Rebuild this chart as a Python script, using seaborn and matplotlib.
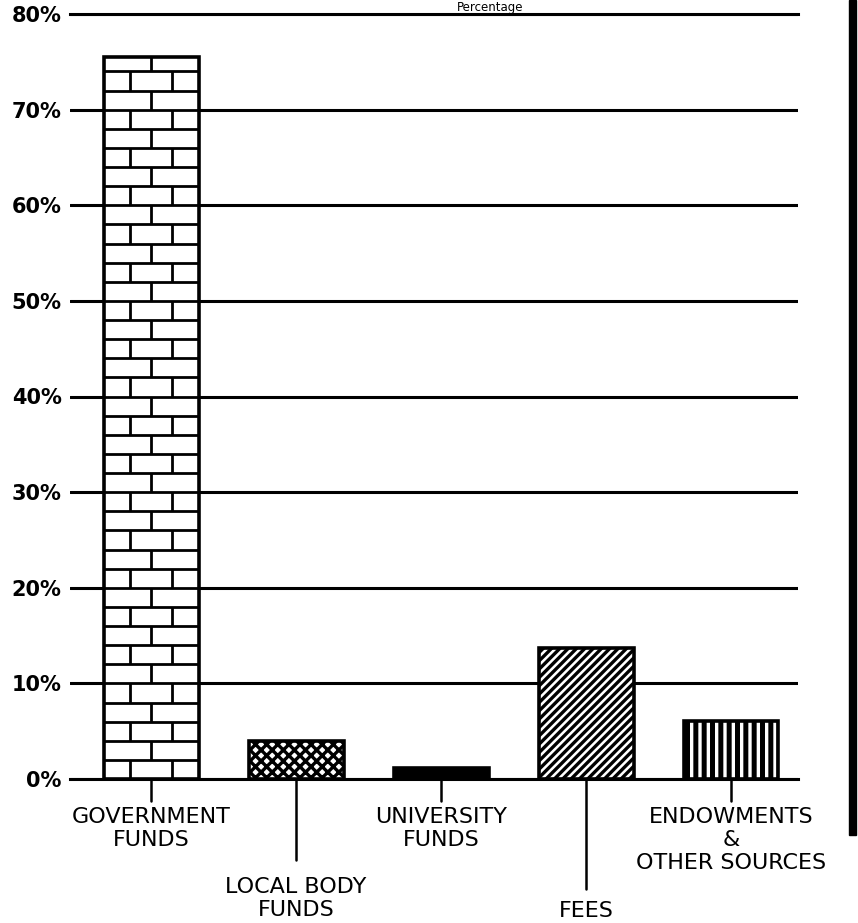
import matplotlib
matplotlib.use("Agg")
import matplotlib.pyplot as plt
import matplotlib.transforms as mtransforms
from matplotlib.patches import Rectangle
import seaborn as sns
import pandas as pd

# ---- data ----
categories = ["GOVERNMENT\nFUNDS", "LOCAL BODY\nFUNDS", "UNIVERSITY\nFUNDS",
              "FEES", "ENDOWMENTS\n&\nOTHER SOURCES"]
shares = [75.5, 4.0, 1.2, 13.7, 6.1]
ytick_values = [0, 10, 20, 30, 40, 50, 60, 70, 80]
ytick_labels = ["0%", "10%", "20%", "30%", "40%", "50%", "60%", "70%", "80%"]
title_text = "Percentage"

# ---- style ----
sns.set_style("white")
plt.rcParams["font.family"] = ["DejaVu Sans"]
plt.rcParams["text.color"] = "black"
plt.rcParams["ytick.color"] = "black"
plt.rcParams["hatch.linewidth"] = 1.8
plt.rcParams["hatch.color"] = "black"

df = pd.DataFrame({"source": categories, "share": shares})

W, H = 858, 923
fig = plt.figure(figsize=(W / 100, H / 100), dpi=100)
ax = fig.add_axes([70 / W, 1 - 779 / H, (798 - 70) / W, (779 - 14) / H])

fills = ["white", "white", "black", "white", "white"]
sns.barplot(data=df, x="source", y="share", hue="source", palette=fills,
            legend=False, width=0.655, edgecolor="black", linewidth=2.6,
            saturation=1, ax=ax, zorder=3)

hatches = [None, "xxx", None, "////", "||"]
hatch_lw = [None, 2.4, None, 2.4, 3.6]
bars = ax.patches[:len(categories)]
for p, h, lw in zip(bars, hatches, hatch_lw):
    if h:
        p.set_hatch(h)
        if hasattr(p, "set_hatch_linewidth"):
            p.set_hatch_linewidth(lw)

# brick pattern on the first bar (derived from bar geometry)
gb = bars[0]
x0, w, top = gb.get_x(), gb.get_width(), gb.get_height()
xc = x0 + w / 2
row_h = 2.0
brick_half = 0.145
yy = 0.0
row = 0
while yy < top:
    y1 = min(yy + row_h, top)
    if y1 < top:
        ax.plot([x0, x0 + w], [y1, y1], color="black", lw=2.0, zorder=4,
                solid_capstyle="butt")
    xs = [xc - brick_half, xc + brick_half] if row % 2 == 0 else [xc]
    for xv in xs:
        ax.plot([xv, xv], [yy, y1], color="black", lw=2.0, zorder=4,
                solid_capstyle="butt")
    yy += row_h
    row += 1

# axes cosmetics
ax.set_xlim(-0.559, 4.462)
ax.set_ylim(0, 80)
ax.set_yticks(ytick_values)
ax.set_yticklabels(ytick_labels, fontsize=15, fontweight="bold", color="black")
ax.tick_params(axis="y", length=0, pad=6)
ax.set_xticks([])
ax.set_xlabel("")
ax.set_ylabel("")
ax.set_axisbelow(True)
ax.yaxis.grid(True, color="black", linewidth=2.2)
for s in ["left", "right"]:
    ax.spines[s].set_visible(False)
for s in ["top", "bottom"]:
    ax.spines[s].set_visible(True)
    ax.spines[s].set_color("black")
    ax.spines[s].set_linewidth(2.2)
ax.spines["bottom"].set_zorder(5)

# category label leader lines and labels below the axis
ax_h_px = 779 - 14
trans = mtransforms.blended_transform_factory(ax.transData, ax.transAxes)
line_len_px = [22, 81, 22, 110, 22]
label_top_px = [28, 98, 28, 122, 28]
for i, (cat, ll, lt) in enumerate(zip(categories, line_len_px, label_top_px)):
    ax.plot([i, i], [0, -ll / ax_h_px], color="black", lw=1.8,
            transform=trans, clip_on=False)
    ax.text(i, -lt / ax_h_px, cat, transform=trans, ha="center", va="top",
            fontsize=16, linespacing=1.2, multialignment="center",
            color="black")

# small title at the top edge
fig.text(490 / W, 1 - 1 / H, title_text, ha="center", va="top",
         fontsize=8.5, color="black")

# dark scan edge at right
fig.patches.append(Rectangle((849 / W, 1 - 835 / H), 7 / W, 835 / H,
                             transform=fig.transFigure, color="black",
                             zorder=10))

fig.savefig("out.png", dpi=100)
